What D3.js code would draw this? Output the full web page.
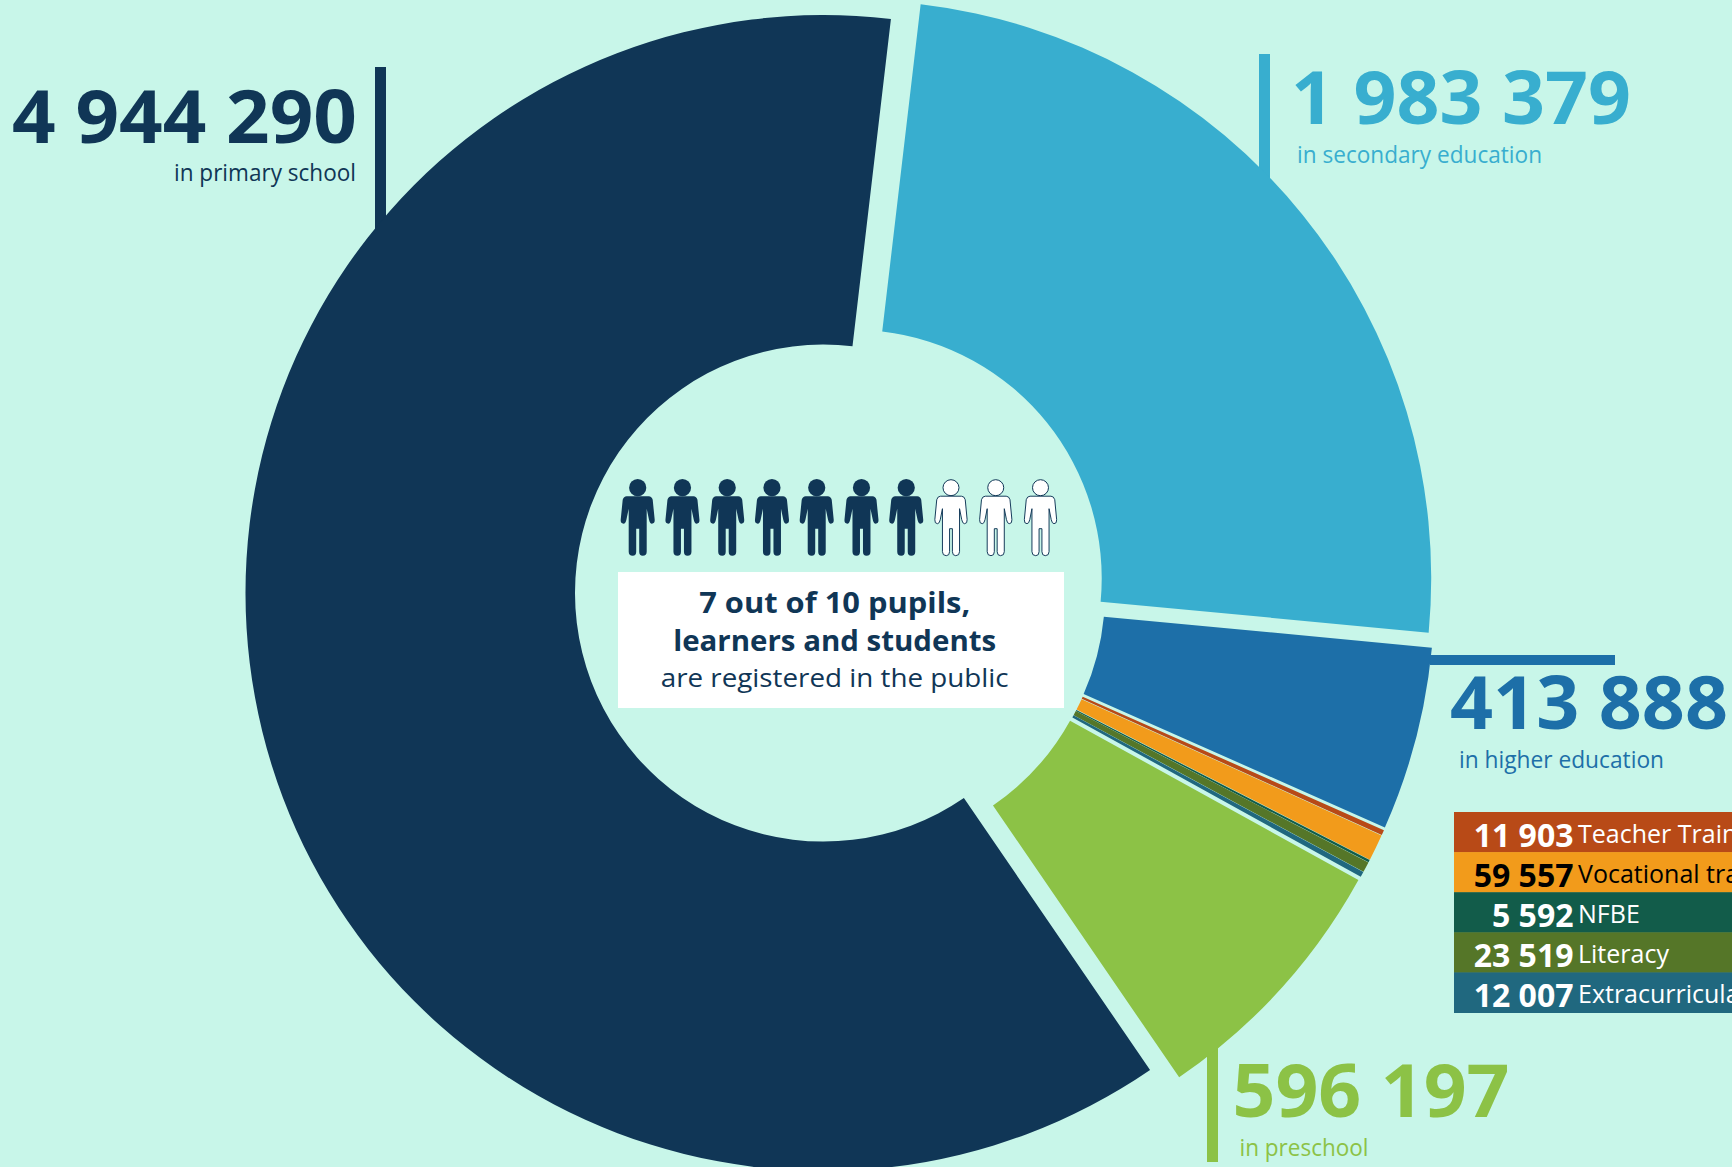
<!DOCTYPE html>
<html><head><meta charset="utf-8">
<script src="https://cdn.jsdelivr.net/npm/d3@7"></script>
<style>
html,body{margin:0;padding:0;background:#c8f6e9;overflow:hidden}
svg{display:block}
text{font-family:"Open Sans","Noto Sans",sans-serif}
</style></head><body>
<svg id="c" width="1732" height="1167"></svg>
<script>
// Data, clockwise from the secondary slice
const categories = ["secondary","higher","teacher","vocational","nfbe","literacy","extracurricular","preschool","primary"];
const values = [1983379,413888,11903,59557,5592,23519,12007,596197,4944290];
const colors = ["#38aecf","#1d6fa8","#b84a17","#f29b1b","#125c4a","#557628","#20687f","#8cc246","#103656"];

const calloutNumbers = ["4 944 290","1 983 379","413 888","596 197"];
const calloutTexts = ["in primary school","in secondary education","in higher education","in preschool"];
const calloutColors = ["#103656","#38aecf","#1d6fa8","#8cc246"];

const tableNumbers = ["11 903","59 557","5 592","23 519","12 007"];
const tableLabels = ["Teacher Train","Vocational tra","NFBE","Literacy","Extracurricula"];
const tableFills = ["#b84a17","#f29b1b","#125c4a","#557628","#20687f"];
const tableInk = ["#fff","#000","#fff","#fff","#fff"];

const people = d3.range(10);
const peopleFilled = 7;
const centreLines = ["7 out of 10 pupils,","learners and students","are registered in the public"];

// Layout
const svg = d3.select("#c");
const bg = "#c8f6e9", navy = "#103656";
svg.append("rect").attr("width",1732).attr("height",1167).attr("fill",bg);

const cx=840, cy=589, explode=17, R=578, r=248.5;
const startDeg=6.7;
const pie=d3.pie().sort(null).value(d=>d)
  .startAngle(startDeg*Math.PI/180).endAngle((startDeg+360)*Math.PI/180);
const arc=d3.arc().innerRadius(r).outerRadius(R);

// Callout bars, drawn beneath the slices
const bars=[
 {x:375,y:67,w:11,h:170,c:0},
 {x:1259,y:54,w:11,h:125,c:1},
 {x:1430,y:655,w:185,h:10,c:2},
 {x:1207,y:1047,w:11,h:115,c:3}];
svg.selectAll("rect.bar").data(bars).join("rect").attr("class","bar")
 .attr("x",d=>d.x).attr("y",d=>d.y).attr("width",d=>d.w).attr("height",d=>d.h)
 .attr("fill",d=>calloutColors[d.c]);

const gPie=svg.append("g").attr("transform",`translate(${cx},${cy})`);
gPie.selectAll("path").data(pie(values)).join("path")
 .attr("d",arc).attr("fill",(d,i)=>colors[i])
 .attr("transform",d=>{const a=(d.startAngle+d.endAngle)/2;
   return `translate(${explode*Math.sin(a)},${-explode*Math.cos(a)})`;});

// Callouts
const callouts=[
 {anchor:"end",nx:357,ny:142.7,nw:345,tx:356,ty:181,tw:182},
 {anchor:"start",nx:1291,ny:124,nw:340,tx:1297,ty:163.3,tw:245},
 {anchor:"start",nx:1450,ny:729.3,nw:278,tx:1459,ty:768.3,tw:205},
 {anchor:"start",nx:1232.5,ny:1117,nw:277,tx:1239.5,ty:1156,tw:129}];
callouts.forEach((c,i)=>{
 svg.append("text").attr("x",c.nx).attr("y",c.ny).attr("text-anchor",c.anchor)
  .attr("font-size",74).attr("font-weight",700).attr("fill",calloutColors[i])
  .attr("textLength",c.nw).attr("lengthAdjust","spacingAndGlyphs").text(calloutNumbers[i]);
 svg.append("text").attr("x",c.tx).attr("y",c.ty).attr("text-anchor",c.anchor)
  .attr("font-size",23).attr("fill",calloutColors[i])
  .attr("textLength",c.tw).attr("lengthAdjust","spacingAndGlyphs").text(calloutTexts[i]);
});

// Table
const rowY=d3.scaleBand().domain(d3.range(5)).range([812,1012.5]);
const row=svg.selectAll("g.row").data(tableNumbers).join("g").attr("class","row")
 .attr("transform",(d,i)=>`translate(0,${rowY(i)})`);
row.append("rect").attr("x",1454).attr("width",278).attr("height",rowY.bandwidth()+.5)
 .attr("fill",(d,i)=>tableFills[i]);
row.append("text").attr("x",1573.5).attr("y",34.5).attr("text-anchor","end")
 .attr("font-size",32).attr("font-weight",700).attr("fill",(d,i)=>tableInk[i]).text(d=>d);
row.append("text").attr("x",1578).attr("y",31).attr("font-size",25)
 .attr("fill",(d,i)=>tableInk[i]).text((d,i)=>tableLabels[i]);

// Centre box
svg.append("rect").attr("x",618).attr("y",572).attr("width",446).attr("height",136).attr("fill","#fff");
const lineY=[612.6,651,686.5], lineW=[271,323,348];
centreLines.forEach((t,i)=>{
 svg.append("text").attr("x",834.7).attr("y",lineY[i]).attr("text-anchor","middle")
  .attr("font-size",i<2?29:26).attr("font-weight",i<2?700:400).attr("fill",navy)
  .attr("textLength",lineW[i]).attr("lengthAdjust","spacingAndGlyphs").text(t);
});

// Pictogram
const personPath="M-11,8.5H11Q14,8.5 15,12L17,32Q17.3,36 14.2,36Q12.2,36 11.3,32L9,21V64Q9,68 5,68Q1.5,68 1.5,64V41H-1.5V64Q-1.5,68 -5,68Q-9,68 -9,64V21L-11.3,32Q-12.2,36 -14.2,36Q-17.3,36 -17,32L-15,12Q-14,8.5 -11,8.5Z";
const px=d3.scalePoint().domain(people).range([637.7,1040.5]);
const person=svg.selectAll("g.person").data(people).join("g").attr("class","person")
 .attr("transform",d=>`translate(${px(d)},487.7)`);
person.append("circle").attr("r",d=>d<peopleFilled?8.6:8)
 .attr("fill",d=>d<peopleFilled?navy:"#fff").attr("stroke",d=>d<peopleFilled?"none":navy).attr("stroke-width",1);
person.append("path").attr("d",personPath)
 .attr("fill",d=>d<peopleFilled?navy:"#fff").attr("stroke",d=>d<peopleFilled?"none":navy).attr("stroke-width",1)
 .attr("transform",d=>d<peopleFilled?null:"scale(.95,1)");
</script></body></html>
